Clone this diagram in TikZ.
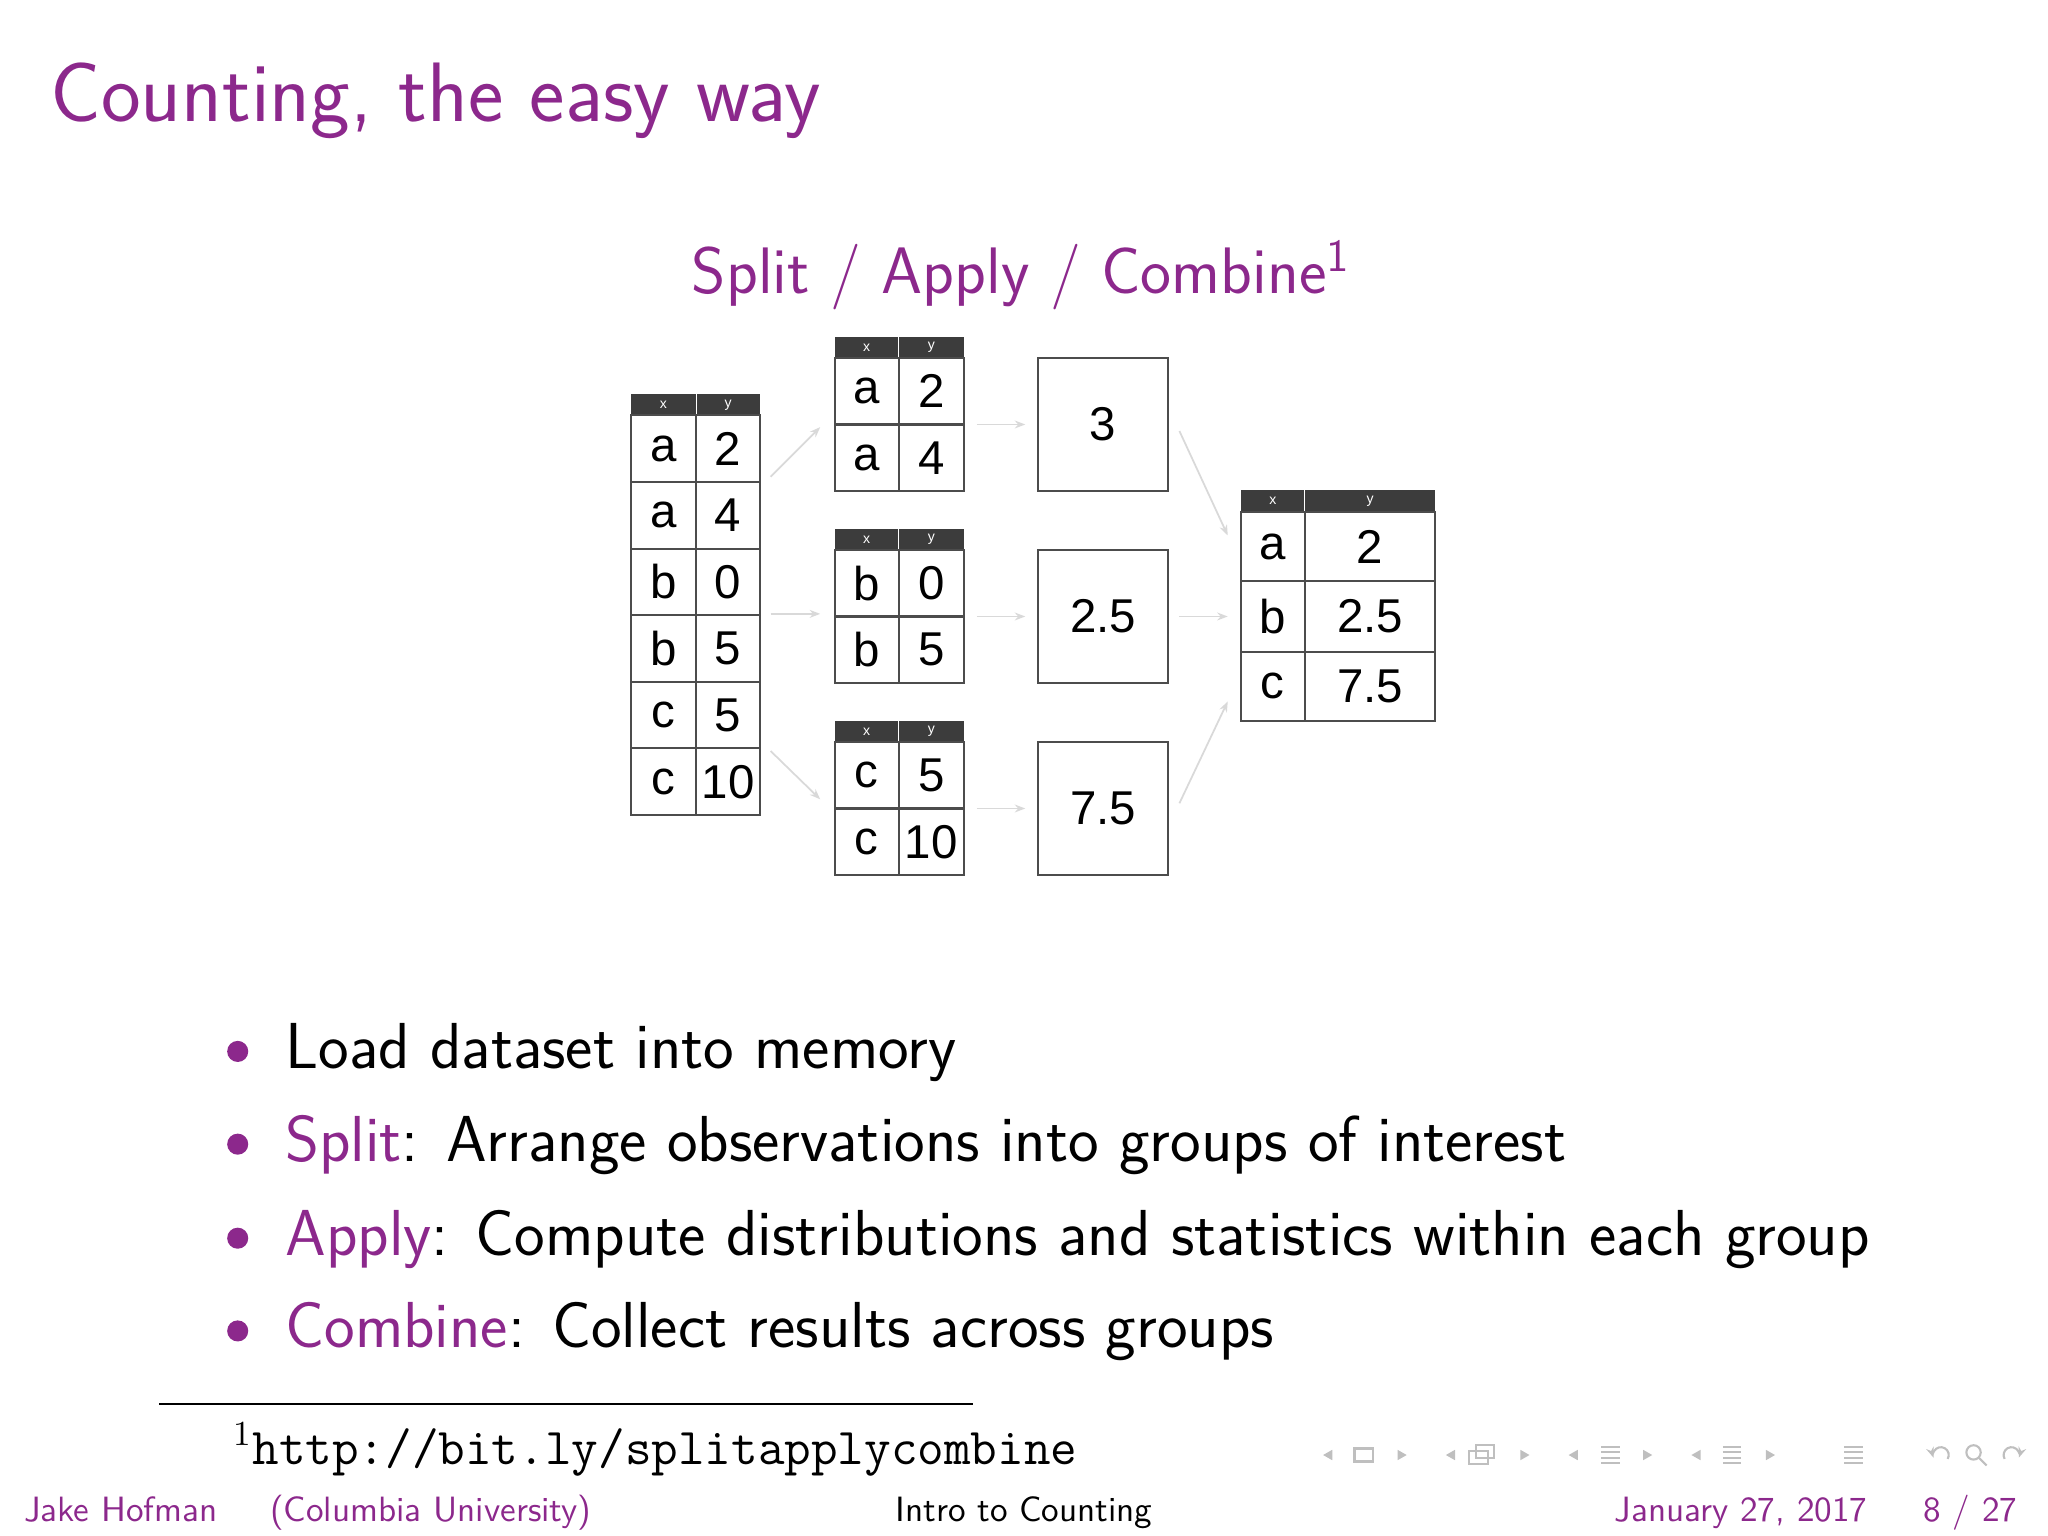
\documentclass[tikz,border=0pt]{standalone}
\usepackage{fontspec}
\newfontfamily\helv{Liberation Sans}
\usetikzlibrary{arrows.meta}
\definecolor{bpurple}{RGB}{140,40,140}
\definecolor{hdr}{RGB}{60,60,60}
\newcommand{\tcell}[6]{\draw[cellline] (#2,#3) rectangle (#4,#5); \node[celltxt] (#1) at ({(#2+#4)/2},{(#3+#5)/2}) {#6};}
\newcommand{\thdr}[5]{\fill[hdr] (#1,#2) rectangle (#3,#4); \node[hdrtxt] at ({(#1+#5)/2},{(#2+#4)/2}) {x}; \node[hdrtxt] at ({(#5+#3)/2},{(#2+#4)/2}) {y}; \draw[white,line width=0.3pt] (#5,#2) -- (#5,#4);}
\begin{document}
\begin{tikzpicture}[x=0.013061cm,y=-0.013061cm,
  cellline/.style={draw=black!70,line width=0.6pt},
  celltxt/.style={font=\helv\fontsize{13.5}{16}\selectfont,inner sep=0},
  hdrtxt/.style={font=\helv\fontsize{4}{5}\selectfont,text=white,inner sep=0},
  arr/.style={draw=black!15,line width=0.5pt,-{Stealth[length=3pt]}},
  bul/.style={anchor=base west,font=\sffamily\fontsize{18.5}{22}\selectfont,inner sep=0}]
\useasboundingbox (0,0) rectangle (1568,1176);
\node[anchor=base west,inner sep=0,text=bpurple,font=\sffamily\fontsize{24}{28}\selectfont] (title) at (38,93) {Counting, the easy way};
\node[anchor=base,inner sep=0,text=bpurple,font=\sffamily\fontsize{18.7}{22}\selectfont] (sub) at (782,225) {Split / Apply / Combine\textsuperscript{1}};
% left table
\thdr{483}{302}{582}{318}{533}
\foreach \r/\a/\b [count=\i from 0] in {a/2,a/4,b/0,b/5,c/5,c/10}{
  \pgfmathsetmacro\ya{318+51*\i}\pgfmathsetmacro\yb{369+51*\i}
  \tcell{L\i x}{483}{\ya}{533}{\yb}{\r}
  \tcell{L\i y}{533}{\ya}{582}{\yb}{\a}
}
% group tables
\foreach \g/\t/\ra/\va/\rb/\vb in {A/258/a/2/a/4, B/405/b/0/b/5, C/552/c/5/c/10}{
  \pgfmathsetmacro\ha{\t+16}\pgfmathsetmacro\hb{\t+67}\pgfmathsetmacro\hc{\t+118}
  \thdr{639}{\t}{738}{\ha}{688}
  \tcell{\g1x}{639}{\ha}{688}{\hb}{\ra}
  \tcell{\g1y}{688}{\ha}{738}{\hb}{\va}
  \tcell{\g2x}{639}{\hb}{688}{\hc}{\rb}
  \tcell{\g2y}{688}{\hb}{738}{\hc}{\vb}
}
% result boxes
\tcell{RA}{795}{274}{894}{376}{3}
\tcell{RB}{795}{421}{894}{523}{2.5}
\tcell{RC}{795}{568}{894}{670}{7.5}
% final table
\thdr{950}{375}{1099}{392}{999}
\tcell{F1x}{950}{392}{999}{445}{a}\tcell{F1y}{999}{392}{1099}{445}{2}
\tcell{F2x}{950}{445}{999}{499}{b}\tcell{F2y}{999}{445}{1099}{499}{2.5}
\tcell{F3x}{950}{499}{999}{552}{c}\tcell{F3y}{999}{499}{1099}{552}{7.5}
% arrows
\foreach \n/\xa/\ya/\xb/\yb in {1/590/365/628/327, 2/590/470/628/470, 3/590/575/628/612,
  4/748/325/785/325, 5/748/472/785/472, 6/748/619/785/619,
  7/903/330/940/410, 8/903/472/940/472, 9/903/615/940/537}{
  \coordinate (s\n) at (\xa,\ya); \coordinate (e\n) at (\xb,\yb);
  \draw[arr] (s\n) -- (e\n);
}
% bullets
\foreach \n/\y in {1/818,2/889,3/961,4/1032}{\fill[bpurple] (182,\y-13) circle[radius=3pt];}
\node[bul] (b1) at (218,818) {Load dataset into memory};
\node[bul] (b2) at (218,889) {\textcolor{bpurple}{Split}: Arrange observations into groups of interest};
\node[bul] (b3) at (218,961) {\textcolor{bpurple}{Apply}: Compute distributions and statistics within each group};
\node[bul] (b4) at (218,1032) {\textcolor{bpurple}{Combine}: Collect results across groups};
% footnote
\draw[line width=0.7pt] (122,1075) -- (745,1075);
\node[anchor=base west,inner sep=0,font=\fontsize{14.7}{17}\selectfont] (fn) at (178,1121) {$^1$\texttt{http://bit.ly/splitapplycombine}};
% footline
\node[anchor=base west,inner sep=0,text=bpurple,font=\sffamily\fontsize{10}{12}\selectfont] (auth) at (18,1165) {Jake Hofman\hspace{1.5em}(Columbia University)};
\node[anchor=base,inner sep=0,font=\sffamily\fontsize{10}{12}\selectfont] (tt) at (784,1165) {Intro to Counting};
\node[anchor=base east,inner sep=0,text=bpurple,font=\sffamily\fontsize{10}{12}\selectfont] (date) at (1545,1165) {January 27, 2017\hspace{1.6em}8 / 27};
% nav symbols
\begin{scope}[draw=black!25,fill=black!25,line width=0.6pt]
\foreach \x in {1013,1107,1201,1295}{\fill (\x,1114) -- (\x+7,1110) -- (\x+7,1118) -- cycle;}
\foreach \x in {1077,1171,1265,1359}{\fill (\x,1114) -- (\x-7,1110) -- (\x-7,1118) -- cycle;}
\draw (1037,1109) rectangle (1051,1119);
\draw (1125,1111) rectangle (1139,1121); \draw (1130,1106) rectangle (1144,1116);
\foreach \x in {1233,1326,1419}{\foreach \d in {-6,-2,2,6}{\draw (\x-7,1114+\d) -- (\x+7,1114+\d);}}
\draw[-{Stealth[length=3pt]}] (1491.2,1117) arc[start angle=30,end angle=-200,radius=6];
\draw (1511,1112) circle[radius=5.5]; \draw (1515,1116) -- (1521,1122);
\draw[-{Stealth[length=3pt]}] (1534.8,1117) arc[start angle=150,end angle=380,radius=6];
\end{scope}
\end{tikzpicture}
\end{document}
